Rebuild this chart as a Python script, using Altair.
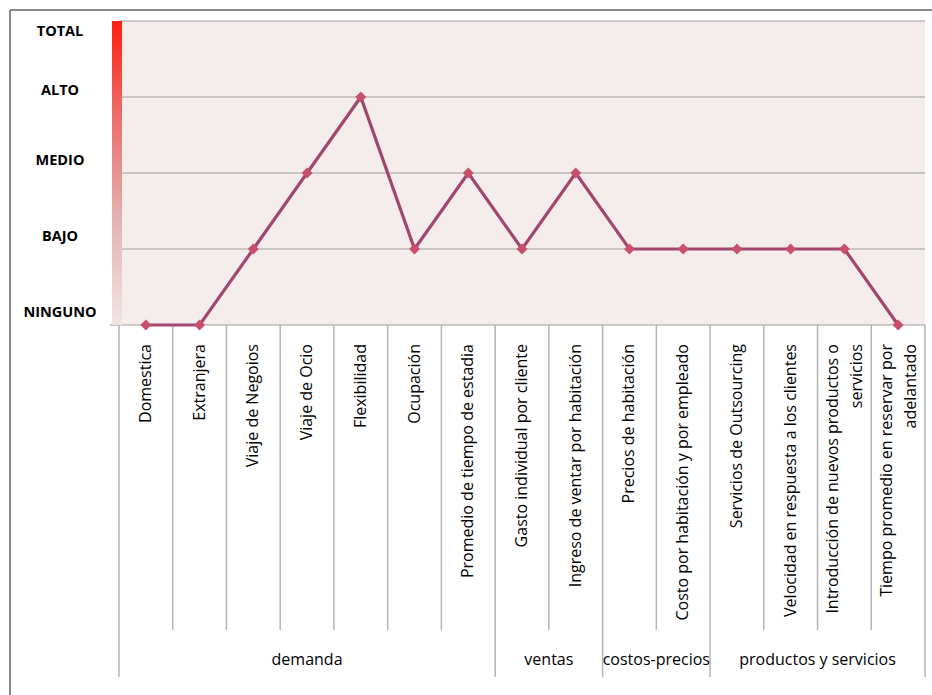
import altair as alt
import pandas as pd

categories = [
    "Domestica", "Extranjera", "Viaje de Negoios", "Viaje de Ocio", "Flexibilidad",
    "Ocupación", "Promedio de tiempo de estadia", "Gasto individual por cliente",
    "Ingreso de ventar por habitación", "Precios de habitación",
    "Costo por habitación y por empleado", "Servicios de Outsourcing",
    "Velocidad en respuesta a los clientes",
    ["Introducción de nuevos productos o", "servicios"],
    ["Tiempo promedio en reservar por", "adelantado"],
]
values = [0, 0, 1, 2, 3, 1, 2, 1, 2, 1, 1, 1, 1, 1, 0]
groups = ["demanda"] * 7 + ["ventas"] * 2 + ["costos-precios"] * 2 + ["productos y servicios"] * 4
level_names = ["NINGUNO", "BAJO", "MEDIO", "ALTO", "TOTAL"]
level_values = [0, 1, 2, 3, 4]

FONT = "Open Sans"
W, H = 806, 659
PX_PER_LEVEL = 76
y_min = -(H - 4 * PX_PER_LEVEL) / PX_PER_LEVEL
N = len(categories)

df = pd.DataFrame({"cat": categories, "value": values, "group": groups})
df["pos"] = df.index + 0.5
df["multi"] = [isinstance(c, list) for c in categories]

grp_rows = []
for g in dict.fromkeys(groups):
    idx = [i for i, gg in enumerate(groups) if gg == g]
    grp_rows.append({"group": g, "start": idx[0], "end": idx[-1] + 1, "mid": (idx[0] + idx[-1] + 1) / 2})
gdf = pd.DataFrame(grp_rows)
long_bounds = sorted(set(gdf["start"]).union(set(gdf["end"])))
short_bounds = [b for b in range(1, N) if b not in long_bounds]

levels = pd.DataFrame({"level": level_values, "name": level_names})
area_df = pd.DataFrame({"x0": [0], "x1": [N], "y0": [min(level_values)], "y1": [max(level_values)]})

xs = alt.Scale(domain=[0, N], nice=False, zero=False)
ys = alt.Scale(domain=[y_min, 4], nice=False, zero=False)

bg = alt.Chart(area_df).mark_rect(color="#f5ecec").encode(
    x=alt.X("x0:Q", scale=xs, axis=None), x2="x1:Q",
    y=alt.Y("y1:Q", scale=ys, axis=None), y2="y0:Q",
)

grid = alt.Chart(levels).mark_rule(color="#a0a0a0", strokeWidth=1.2).encode(
    y=alt.Y("level:Q", scale=ys, axis=None),
    x=alt.value(0), x2=alt.value(W),
)
base_tick = alt.Chart(levels[levels.level == 0]).mark_rule(color="#a0a0a0", strokeWidth=1.2).encode(
    y=alt.Y("level:Q", scale=ys, axis=None), x=alt.value(-9), x2=alt.value(0),
)

grad = alt.Chart(area_df).mark_rect(
    fill=alt.Gradient(
        gradient="linear", x1=0, y1=0, x2=0, y2=1,
        stops=[
            alt.GradientStop(color="#ff1e0e", offset=0),
            alt.GradientStop(color="#ec6a66", offset=0.3),
            alt.GradientStop(color="#e2b2b2", offset=0.65),
            alt.GradientStop(color="#f2e4e4", offset=1),
        ],
    )
).encode(x=alt.value(-7), x2=alt.value(3), y=alt.Y("y1:Q", scale=ys, axis=None), y2="y0:Q")


def level_text(sub, dy):
    return alt.Chart(sub).mark_text(
        font=FONT, fontWeight="bold", fontSize=14.5, color="black",
        align="center", baseline="middle", dy=dy,
    ).encode(y=alt.Y("level:Q", scale=ys, axis=None), x=alt.value(-59), text="name:N")


lvl_top = level_text(levels[levels.level == 4], 11)
lvl_alto = level_text(levels[levels.level == 3], -6)
lvl_rest = level_text(levels[levels.level < 3], -12)

line = alt.Chart(df).mark_line(color="#a0476f", strokeWidth=3.2).encode(
    x=alt.X("pos:Q", scale=xs, axis=None),
    y=alt.Y("value:Q", scale=ys, axis=None),
)
pts = alt.Chart(df).mark_point(shape="diamond", filled=True, size=120, opacity=1, color="#c8506c").encode(
    x=alt.X("pos:Q", scale=xs, axis=None),
    y=alt.Y("value:Q", scale=ys, axis=None),
)

sep_short = alt.Chart(pd.DataFrame({"b": short_bounds})).mark_rule(color="#b4b4b4", strokeWidth=1.5).encode(
    x=alt.X("b:Q", scale=xs, axis=None), y=alt.value(4 * PX_PER_LEVEL), y2=alt.value(609),
)
sep_long = alt.Chart(pd.DataFrame({"b": long_bounds})).mark_rule(color="#b4b4b4", strokeWidth=1.5).encode(
    x=alt.X("b:Q", scale=xs, axis=None), y=alt.value(4 * PX_PER_LEVEL), y2=alt.value(656),
)


def cat_text(sub, dy):
    return alt.Chart(sub).mark_text(
        angle=270, align="right", baseline="middle", font=FONT, fontSize=16,
        color="black", lineHeight=24, dy=dy,
    ).encode(x=alt.X("pos:Q", scale=xs, axis=None), y=alt.value(323), text="cat")


cat_single = cat_text(df[~df.multi].drop(columns="multi"), 0)
cat_multi = cat_text(df[df.multi].drop(columns="multi"), -11)

grp_labels = alt.Chart(gdf).mark_text(
    align="center", baseline="middle", font=FONT, fontSize=16, color="black",
).encode(x=alt.X("mid:Q", scale=xs, axis=None), y=alt.value(639), text="group:N")

frame_top = alt.Chart(area_df).mark_rule(color="#8a8a8a", strokeWidth=2).encode(
    x=alt.value(-109), x2=alt.value(W + 20), y=alt.value(-11),
)
frame_left = alt.Chart(area_df).mark_rule(color="#8a8a8a", strokeWidth=2).encode(
    x=alt.value(-109), y=alt.value(-11), y2=alt.value(H + 20),
)

chart = alt.layer(
    bg, grid, base_tick, grad, sep_short, sep_long, line, pts, lvl_top, lvl_alto, lvl_rest,
    cat_single, cat_multi, grp_labels, frame_top, frame_left
).properties(
    width=W, height=H,
    autosize=alt.AutoSizeParams(type="none"),
    padding={"left": 119, "top": 21, "right": 7, "bottom": 15},
    background="white",
).configure_view(stroke=None)

chart.save("out.html", embed_options={"renderer": "svg", "actions": False})
